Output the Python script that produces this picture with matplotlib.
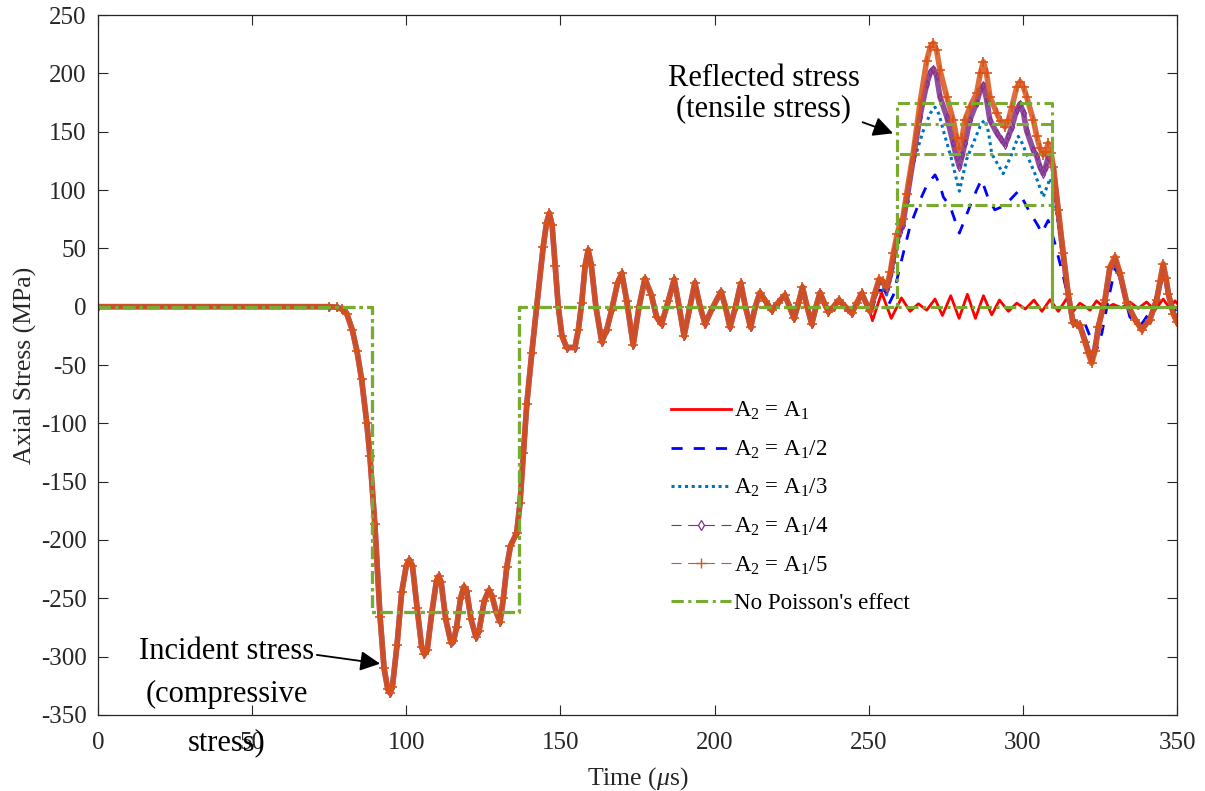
import matplotlib
matplotlib.use('Agg')
import matplotlib.pyplot as plt
from matplotlib.lines import Line2D
import numpy as np

plt.rcParams['font.family'] = 'Liberation Serif'
plt.rcParams['mathtext.fontset'] = 'custom'
plt.rcParams['mathtext.rm'] = 'Liberation Serif'
plt.rcParams['mathtext.it'] = 'Liberation Serif:italic'
plt.rcParams['axes.unicode_minus'] = False

# tramo comun a todas las barras (onda incidente), tiempo en us y tension en MPa
t_comun = [0, 75, 77.5, 79, 80.7, 82.5, 84, 85.5, 87.2, 88.2, 89.8, 91.5, 92.8, 94.0, 94.7, 95.5,
           97, 98.5, 100, 101, 102, 103.5, 105, 105.9, 106.8, 108.3, 109.8, 110.5, 111.3, 112.8,
           114.5, 115.3, 116.3, 117.6, 118.7, 119.6, 121, 122.6, 123.6, 125.3, 126.8, 127.8, 129.2,
           130.4, 131.5, 132.6, 133.8, 135.8, 136.9, 138, 139.1, 140.7, 142.3, 144.4, 145.5, 146.4,
           147.3, 148.3, 149.3, 150.5, 152, 154.7, 155.8, 156.9, 158, 159, 160, 161.5, 163.4, 165,
           166.6, 168.5, 169.9, 171.5, 173.6, 175.5, 177.4, 179.5, 181.2, 182.8, 185, 186.9, 188.5,
           190.1, 192, 193.6, 195.3, 196.9, 199.5, 202.1, 203.5, 205, 206.8, 208.5, 210, 211.7,
           213.2, 214.7, 216.5, 218.5, 220.5, 222.8, 224.3, 225.8, 227.2, 228.5, 230, 231.5, 232.9,
           234.2, 235.6, 236.9, 238.6, 240.3, 242.4, 244.5, 246.1, 247.7]
s_comun = [0, 0, -0.5, -2, -6, -20, -38, -62, -100, -128, -186, -266, -310, -328, -331, -326,
           -290, -245, -222, -217, -222, -258, -292, -298, -294, -262, -235, -231, -236, -268,
           -288, -287, -275, -250, -240, -244, -268, -283, -278, -252, -243, -248, -262,
           -270, -250, -223, -205, -194, -168, -125, -83, -40, 0, 51, 72, 80,
           70, 35, 0, -25, -35, -35, -20, 3, 35, 48.6, 36, 0, -30, -20,
           -3, 20, 28.6, 5, -32.8, 0, 24, 10, -9, -15, 5, 23.5, 0,
           -25, 0, 20.6, 0, -14.8, 0, 12.9, 0, -17.7, 0, 20, 0, -17.7,
           0, 12, 5, -3, 3, 10, 0, -10, 3, 16.6, 0, -14.8, 0,
           12, 3, -4.3, 0, 5.7, 0, -5.7, 3, 11.4]

# A2 = A1
t_a1 = [250.0, 251.2, 254.2, 257.3, 260.6, 263.4, 266.1, 268.8, 271.5, 273.9, 276.6, 279.3, 282.0,
        284.6, 287.2, 289.9, 292.4, 295.3, 298.0, 300.8, 303.6, 306.2, 308.8, 311.5, 314.2, 316.3,
        318.5, 321.8, 323.9, 326.6, 329.3, 332.0, 334.7, 337.4, 340.1, 342.8, 345.5, 347.7, 349.3, 350]
s_a1 = [0, -12, 12, -10, 7.5, -4, 2.5, -3, 6.6, -7.5, 9.4, -10, 10.6,
        -10, 9.4, -7, 5.7, -4, 3, -2, 5.7, -4, 6, -4, 7, -4,
        3, -3, 5, -1.5, 2, -1, 4, -1.5, 4, -3, 6.5, -1.5, 5, 3]

# A2 = A1/2
t_a2 = [250.4, 253.0, 255.3, 256.5, 258.0, 260.1, 263.4, 266.6, 269.0, 271.5, 273.0, 274.2, 276.4,
        279.4, 282.8, 285.0, 286.6, 288.6, 290.9, 293.5, 296.0, 298.5, 300.0, 301.8, 305.0, 306.1,
        308.2, 310.4, 313.1, 315.3, 317.5, 319.6, 322.3, 323.8, 325.6, 327.7, 329.9, 331.5, 334.7,
        338.5, 342.3, 345.5, 348.2, 350]
s_a2 = [-8, 14, 14, 2, 10, 34, 69, 91, 105, 113, 105, 94, 86,
        63, 86, 100, 109, 94, 83, 86, 92, 99, 92, 83, 69, 63,
        74, 54, 26, 0, -17, -11, -29, -38, -23, 6, 33, 25, -9,
        -15, 0, 30, 3, -6]

# A2 = A1/3
t_a3 = [250.4, 252.0, 253.4, 255.8, 258.5, 261.2, 264.4, 267.7, 270.0, 271.5, 272.8, 274.2, 276.9,
        279.4, 281.7, 284.5, 286.5, 287.7, 288.8, 289.9, 293.6, 296.4, 298.5, 299.8, 301.2, 303.9,
        306.6, 308.8, 309.9, 311.5, 313.1, 314.7, 316.3, 318.5, 320.1, 322.3, 324.5, 326.6, 328.2,
        329.9, 331.5, 333.7, 336.4, 338.5, 341.2, 343.4, 345.5, 347.2, 348.8, 350]
s_a3 = [-5, 9, 20, 10, 40, 74, 123, 151, 166, 171, 165, 151, 126,
        99, 126, 144, 157, 160, 150, 131, 114, 131, 146, 140, 131, 114,
        94, 110, 100, 70, 38, 8, -14, -14, -26, -44, -17, 4, 30,
        37, 25, 2, -10, -18, -10, 5, 33, 10, -6, -12]

# A2 = A1/4 y A2 = A1/5 (mismos instantes)
t_a45 = [250.4, 252.0, 253.4, 254.6, 255.8, 257.0, 258.0, 259.2, 260.1, 261.0, 262.3, 264.4, 266.6,
         268.8, 270.0, 271.0, 272.0, 273.1, 275.3, 277.4, 278.5, 279.4, 280.3, 281.2, 282.8, 285.0,
         286.2, 287.2, 288.2, 289.3, 291.5, 292.8, 294.2, 295.3, 296.4, 298.0, 299.1, 300.2, 301.2,
         303.4, 304.5, 305.5, 306.6, 307.4, 308.2, 309.1, 309.9, 311.5, 313.1, 314.7, 316.3, 317.4,
         318.5, 320.1, 321.2, 322.3, 323.4, 324.5, 326.6, 328.2, 329.9, 331.5, 333.7, 336.4, 338.5,
         341.2, 343.4, 344.5, 345.5, 346.4, 347.2, 348.8, 350]
s_a4 = [-4, 11, 23, 21, 15, 27, 42, 57, 64, 70, 91, 126, 163,
        191, 201, 204, 198, 180, 163, 140, 128, 120, 130, 140, 160, 175,
        186, 190, 178, 160, 149, 144, 139, 146, 154, 169, 174, 166, 151,
        134, 129, 120, 114, 120, 128, 126, 118, 80, 44, 10, -14, -15,
        -16, -29, -38, -46, -36, -17, 5, 33, 41, 28, 3, -11, -19,
        -11, 6, 21, 35, 24, 11, -6, -13]
s_a5 = [-4, 12, 24, 22, 17, 30, 46, 62, 71, 75, 97, 131, 174,
        211, 223, 226, 220, 203, 180, 160, 145, 136, 145, 160, 171, 183,
        200, 210, 200, 180, 166, 159, 154, 160, 171, 188, 193, 188, 180,
        160, 146, 136, 130, 133, 140, 132, 120, 83, 46, 11, -14, -15,
        -16, -30, -40, -48.6, -38, -17, 6, 34, 43, 29, 3, -11, -20,
        -11, 6, 22, 37, 25, 11, -6, -13]

# solucion sin efecto Poisson: pulsos rectangulares
nivel_incidente = -262
niveles_reflejada = [0, 87, 131, 157, 175]
t_flancos = [88.9, 136.6, 259.3, 309.3]

etiquetas = [r'$\mathrm{A}_2$ = $\mathrm{A}_1$', r'$\mathrm{A}_2$ = $\mathrm{A}_1$/2',
             r'$\mathrm{A}_2$ = $\mathrm{A}_1$/3', r'$\mathrm{A}_2$ = $\mathrm{A}_1$/4',
             r'$\mathrm{A}_2$ = $\mathrm{A}_1$/5', "No Poisson's effect"]

rojo, azul, celeste = '#FF0000', '#0000FF', '#0072BD'
morado, naranja, verde = '#7E2F8E', '#D95319', '#77AC30'
raya_azul = (0, (4, 4))
punteado = (0, (1, 1.2))
raya_punto = (0, (4, 1.5, 1, 1.5))


def serie(t_cola, s_cola):
    return np.array(t_comun + t_cola), np.array(s_comun + s_cola)


fig, ax = plt.subplots(figsize=(12.05, 7.91), dpi=100)
fig.subplots_adjust(left=0.0813, right=0.9768, bottom=0.0961, top=0.981)

ax.plot(*serie(t_a1, s_a1), color=rojo, lw=2)
ax.plot(*serie(t_a2, s_a2), color=azul, lw=2, ls=raya_azul)
ax.plot(*serie(t_a3, s_a3), color=celeste, lw=2.2, ls=punteado)

t4, s4 = serie(t_a45, s_a4)
ax.plot(t4, s4, color=morado, lw=4, alpha=0.85, solid_joinstyle='round')
ax.plot(t4, s4, ls='none', marker='d', ms=4, mfc='none', mec=morado, mew=0.8)

t5, s5 = serie(t_a45, s_a5)
ax.plot(t5, s5, color=naranja, lw=4, alpha=0.85, solid_joinstyle='round')
ax.plot(t5, s5, ls='none', marker='+', ms=7, mec=naranja, mew=1.2)

f0, f1, f2, f3 = t_flancos
for r in niveles_reflejada:
    tt = [0, f0, f0, f1, f1, f2, f2, f3, f3, 350]
    ss = [0, 0, nivel_incidente, nivel_incidente, 0, 0, r, r, 0, 0]
    ax.plot(tt, ss, color=verde, lw=2.2, ls=raya_punto)

ax.set_xlim(0, 350)
ax.set_ylim(-350, 250)
ax.set_xticks(np.arange(0, 351, 50))
ax.set_yticks(np.arange(-350, 251, 50))
ax.tick_params(direction='in', top=True, right=True, length=7.5, width=0.8,
               labelsize=18, colors='#262626', pad=8)
ax.tick_params(axis='x', pad=12)
for sp in ax.spines.values():
    sp.set_color('#262626')
    sp.set_linewidth(0.9)

ax.set_xlabel(r'Time ($\mu$s)', fontsize=18.5, color='#262626', labelpad=8)
ax.set_ylabel('Axial Stress (MPa)', fontsize=18.5, color='#262626', labelpad=3)

# leyenda con muestras de linea finas como en MATLAB
manejadores = [
    Line2D([], [], color=rojo, lw=2),
    Line2D([], [], color=azul, lw=2, ls=raya_azul),
    Line2D([], [], color=celeste, lw=2.2, ls=punteado),
    Line2D([], [], color=morado, lw=0.8, ls=(0, (9, 6)), marker='d', ms=5, mfc='none', mew=0.9),
    Line2D([], [], color=naranja, lw=0.8, ls=(0, (9, 6)), marker='+', ms=7, mew=1),
    Line2D([], [], color=verde, lw=2.2, ls=raya_punto),
]
ax.legend(manejadores, etiquetas, loc='upper left', bbox_to_anchor=(671 / 1205, 1 - 400 / 791),
          bbox_transform=fig.transFigure, frameon=False, fontsize=16.5, handlelength=2.6,
          handletextpad=0.15, labelspacing=0.71, borderpad=0, borderaxespad=0, numpoints=1)

flecha = dict(arrowstyle='-|>', color='k', lw=1.3, mutation_scale=30, shrinkA=0, shrinkB=0)
ax.annotate('Reflected stress\n(tensile stress)', xy=(257.9, 148.6), xytext=(216, 183),
            ha='center', va='center', fontsize=22, linespacing=1.05,
            arrowprops=dict(flecha, relpos=(0.92, 0.12)))
ax.annotate('Incident stress', xy=(91.5, -306), xytext=(41.7, -295.7),
            ha='center', va='center', fontsize=22, arrowprops=dict(flecha, relpos=(1, 0.4)))
ax.text(41.7, -332.8, '(compressive', ha='center', va='center', fontsize=22)
ax.text(41.8, -374, 'stress)', ha='center', va='center', fontsize=22, clip_on=False)

fig.savefig('out.png', dpi=100)
